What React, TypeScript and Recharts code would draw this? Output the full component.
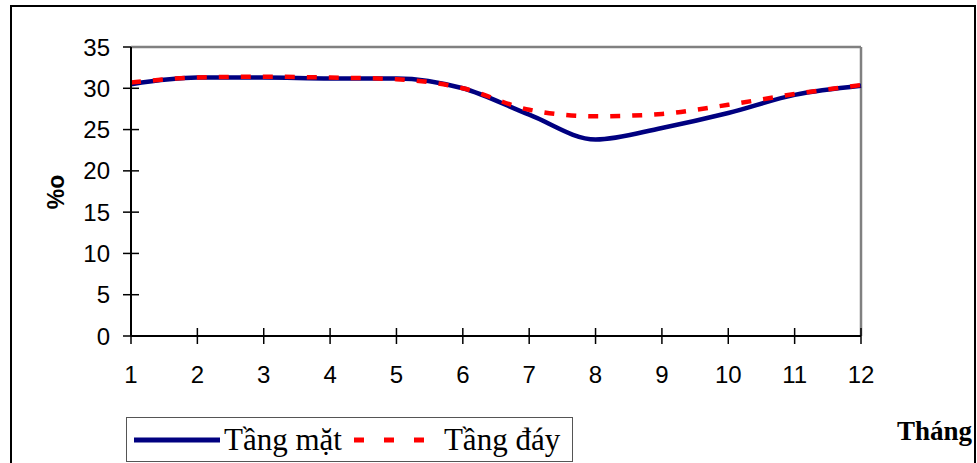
import { Label, Line, LineChart, ReferenceLine, XAxis, YAxis } from 'recharts';

const months = [1, 2, 3, 4, 5, 6, 7, 8, 9, 10, 11, 12];
const surface = [30.5, 31.3, 31.3, 31.2, 31.2, 30.0, 26.8, 23.8, 25.2, 27.0, 29.2, 30.3];
const bottom = [30.7, 31.3, 31.4, 31.3, 31.1, 30.0, 27.4, 26.6, 26.9, 28.0, 29.3, 30.4];
const yTicks = [0, 5, 10, 15, 20, 25, 30, 35];

const data = months.map((m, i) => ({ m, surface: surface[i], bottom: bottom[i] }));

const ARIAL = '"Liberation Sans", Arial, sans-serif';
const TIMES = '"Liberation Serif", "Times New Roman", serif';

function YTick({ y, payload }: any) {
  return (
    <g>
      <line x1={123} x2={payload.value === 35 ? 131 : 139} y1={y} y2={y} stroke="#000" strokeWidth={1.5} />
      <text x={110} y={y} textAnchor="end" dominantBaseline="central" fontFamily={ARIAL} fontSize={24} fill="#000">
        {payload.value}
      </text>
    </g>
  );
}

function XTick({ x, payload }: any) {
  return (
    <g>
      <line x1={x} x2={x} y1={328} y2={344} stroke="#000" strokeWidth={1.5} />
      <text x={x} y={383} textAnchor="middle" fontFamily={ARIAL} fontSize={24} fill="#000">
        {payload.value}
      </text>
    </g>
  );
}

function LegendBox() {
  return (
    <div
      style={{
        position: 'absolute',
        left: 126,
        top: 417,
        display: 'flex',
        alignItems: 'center',
        height: 45,
        width: 447,
        border: '1.5px solid #555',
        boxSizing: 'border-box',
        fontFamily: TIMES,
        fontSize: 31,
        color: '#000',
        background: '#fff',
        whiteSpace: 'nowrap',
      }}
    >
      <svg width={90} height={20} style={{ marginLeft: 7 }}>
        <line x1={0} x2={86} y1={10} y2={10} stroke="#000080" strokeWidth={5} />
      </svg>
      <span>Tầng mặt</span>
      <svg width={90} height={20} style={{ marginLeft: 12 }}>
        <line x1={0} x2={74} y1={10} y2={10} stroke="#ff0000" strokeWidth={5} strokeDasharray="10 20" />
      </svg>
      <span>Tầng đáy</span>
    </div>
  );
}

export default function App() {
  return (
    <div style={{ position: 'fixed', left: 0, top: 0, width: 977, height: 463, overflow: 'hidden', background: '#fff' }}>
      <div
        style={{
          position: 'absolute',
          left: 10,
          top: 5,
          width: 966,
          height: 480,
          border: '2px solid #000',
          boxSizing: 'border-box',
        }}
      />
      <div style={{ position: 'absolute', left: 0, top: 0 }}>
        <LineChart width={977} height={463} data={data} margin={{ top: 47, right: 116, left: 0, bottom: 87 }}>
          <XAxis
            dataKey="m"
            type="number"
            domain={[1, 12]}
            ticks={months}
            height={40}
            axisLine={{ stroke: '#000', strokeWidth: 2 }}
            tickLine={false}
            tick={<XTick />}
            interval={0}
          >
            <Label
              content={() => (
                <text x={972} y={440} textAnchor="end" fontFamily={TIMES} fontWeight="bold" fontSize={27} fill="#000">
                  Tháng
                </text>
              )}
            />
          </XAxis>
          <YAxis
            type="number"
            domain={[0, 35]}
            ticks={yTicks}
            width={131}
            axisLine={{ stroke: '#000', strokeWidth: 2 }}
            tickLine={false}
            tick={<YTick />}
            interval={0}
          >
            <Label
              content={() => (
                <text
                  x={56}
                  y={192}
                  transform="rotate(-90 56 192)"
                  textAnchor="middle"
                  dominantBaseline="central"
                  fontFamily={ARIAL}
                  fontWeight="bold"
                  fontSize={23}
                  fill="#000"
                >
                  %o
                </text>
              )}
            />
          </YAxis>
          <ReferenceLine y={35} stroke="#808080" strokeWidth={2.5} />
          <ReferenceLine x={12} stroke="#808080" strokeWidth={2.5} />
          <Line
            type="monotone"
            dataKey="surface"
            stroke="#000080"
            strokeWidth={4.5}
            dot={false}
            isAnimationActive={false}
          />
          <Line
            type="monotone"
            dataKey="bottom"
            stroke="#ff0000"
            strokeWidth={4.5}
            strokeDasharray="10 12"
            dot={false}
            isAnimationActive={false}
          />
        </LineChart>
      </div>
      <LegendBox />
    </div>
  );
}
